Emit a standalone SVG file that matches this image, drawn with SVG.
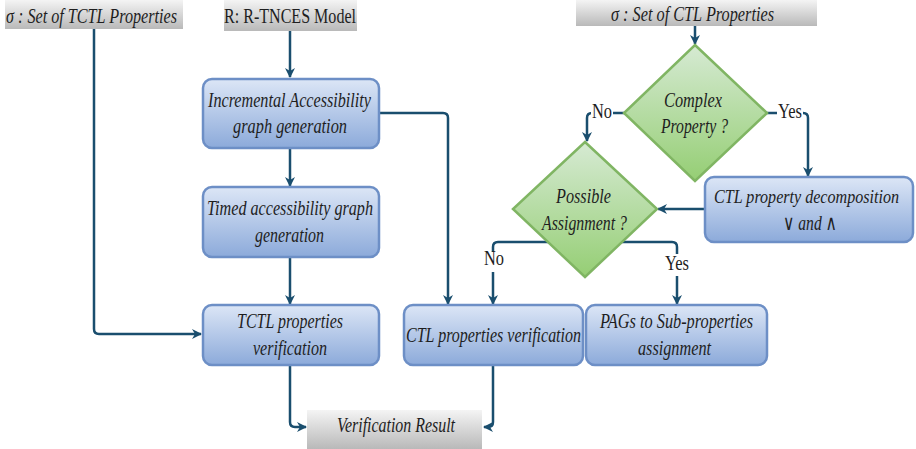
<svg xmlns="http://www.w3.org/2000/svg" width="916" height="449" viewBox="0 0 916 449" font-family="'Liberation Serif', 'DejaVu Serif', serif">
<defs>
<linearGradient id="gBlue" x1="0" y1="0" x2="0" y2="1"><stop offset="0" stop-color="#dce6f6"/><stop offset="1" stop-color="#8caada"/></linearGradient>
<linearGradient id="gGreen" x1="0" y1="0" x2="0" y2="1"><stop offset="0" stop-color="#d6ead3"/><stop offset="1" stop-color="#95ce74"/></linearGradient>
<linearGradient id="gGray" x1="0" y1="0" x2="0" y2="1"><stop offset="0" stop-color="#f4f4f4"/><stop offset="1" stop-color="#b9b9b9"/></linearGradient>
<marker id="arr" viewBox="0 0 10 10" refX="9" refY="5" markerWidth="10" markerHeight="10" markerUnits="userSpaceOnUse" orient="auto">
<path d="M0,0 L10,5 L0,10 L3,5 z" fill="#1a4e6e"/>
</marker>
<style>
.box{fill:url(#gBlue);stroke:#6d8fc6;stroke-width:2.5}
.dia{fill:url(#gGreen);stroke:#80b563;stroke-width:2.5}
.lbl{fill:url(#gGray)}
.c{fill:none;stroke:#1a4e6e;stroke-width:2.5;stroke-linejoin:round}
text{font-family:'Liberation Serif','DejaVu Serif',serif;font-size:21px;fill:#1e1e1e}
.i{font-style:italic}
.y{font-size:20px}
.s{font-size:19px}
</style>
</defs>
<rect width="916" height="449" fill="#ffffff"/>

<g id="connectors">
<path class="c" d="M94,29 V329 Q94,334 99,334 H201" marker-end="url(#arr)"/>
<path class="c" d="M290,31 V77" marker-end="url(#arr)"/>
<path class="c" d="M290,148 V186" marker-end="url(#arr)"/>
<path class="c" d="M290,257 V304" marker-end="url(#arr)"/>
<path class="c" d="M379,113 H443 Q448,113 448,118 V304" marker-end="url(#arr)"/>
<path class="c" d="M290,366 V422 Q290,427 295,427 H306" marker-end="url(#arr)"/>
<path class="c" d="M493,366 V422 Q493,427 488,427 H484" marker-end="url(#arr)"/>
<path class="c" d="M695,26 V44" marker-end="url(#arr)"/>
<path class="c" d="M624,113 H592 Q587,113 587,118 V141" marker-end="url(#arr)"/>
<path class="c" d="M767,113 H803 Q808,113 808,118 V176" marker-end="url(#arr)"/>
<path class="c" d="M705,209 H658" marker-end="url(#arr)"/>
<path class="c" d="M493,272 V304" marker-end="url(#arr)"/>
<path class="c" d="M493,252 V247 Q493,242 498,242 H672 Q677,242 677,247 V254"/>
<path class="c" d="M677,276 V304" marker-end="url(#arr)"/>
</g>

<g id="sigma-tctl"><rect class="lbl" x="5" y="0" width="178" height="29"/><text class="i" x="6" y="23" textLength="171" lengthAdjust="spacingAndGlyphs">σ : Set of TCTL Properties</text></g>
<g id="rtnces"><rect class="lbl" x="224" y="0" width="133" height="31"/><text x="224" y="23" textLength="132" lengthAdjust="spacingAndGlyphs">R: R-TNCES Model</text></g>
<g id="sigma-ctl"><rect class="lbl" x="576" y="0" width="241" height="26"/><text class="i" x="611" y="21" textLength="163" lengthAdjust="spacingAndGlyphs">σ : Set of CTL Properties</text></g>

<g id="incremental"><rect class="box" x="203" y="79" width="176" height="69" rx="9"/>
<text class="i" x="208" y="107" textLength="163" lengthAdjust="spacingAndGlyphs">Incremental Accessibility</text>
<text class="i" x="233" y="133" textLength="114" lengthAdjust="spacingAndGlyphs">graph generation</text></g>

<g id="timed"><rect class="box" x="203" y="187" width="176" height="70" rx="9"/>
<text class="i" x="207" y="215" textLength="166" lengthAdjust="spacingAndGlyphs">Timed accessibility graph</text>
<text class="i" x="255" y="242" textLength="69" lengthAdjust="spacingAndGlyphs">generation</text></g>

<g id="tctl-verif"><rect class="box" x="203" y="305" width="176" height="60" rx="9"/>
<text class="i" x="237" y="328" textLength="106" lengthAdjust="spacingAndGlyphs">TCTL properties</text>
<text class="i" x="253" y="355" textLength="74" lengthAdjust="spacingAndGlyphs">verification</text></g>

<g id="ctl-verif"><rect class="box" x="404" y="305" width="179" height="60" rx="9"/>
<text class="i" x="406" y="342" textLength="175" lengthAdjust="spacingAndGlyphs">CTL properties verification</text></g>

<g id="pags"><rect class="box" x="586" y="305" width="181" height="60" rx="9"/>
<text class="i" x="600" y="328" textLength="153" lengthAdjust="spacingAndGlyphs">PAGs to Sub-properties</text>
<text class="i" x="638" y="355" textLength="73" lengthAdjust="spacingAndGlyphs">assignment</text></g>

<g id="decomp"><rect class="box" x="705" y="177" width="208" height="65" rx="9"/>
<text class="i s" x="714" y="203" textLength="185" lengthAdjust="spacingAndGlyphs">CTL property decomposition</text>
<text class="i" x="783" y="230" textLength="54" lengthAdjust="spacingAndGlyphs">∨ and ∧</text></g>

<g id="complex"><path class="dia" d="M695,45 L767,113 L695,181 L624,113 Z"/>
<text class="i" x="664" y="107" textLength="58" lengthAdjust="spacingAndGlyphs">Complex</text>
<text class="i" x="661" y="133" textLength="67" lengthAdjust="spacingAndGlyphs">Property ?</text></g>

<g id="possible"><path class="dia" d="M585,142 L657,209 L585,277 L513,209 Z"/>
<text class="i" x="556" y="203" textLength="55" lengthAdjust="spacingAndGlyphs">Possible</text>
<text class="i" x="542" y="230" textLength="85" lengthAdjust="spacingAndGlyphs">Assignment ?</text></g>

<g id="result"><rect class="lbl" x="307" y="410" width="175" height="39"/>
<text class="i" x="337" y="432" textLength="118" lengthAdjust="spacingAndGlyphs">Verification Result</text></g>

<g id="edge-labels">
<rect x="591" y="103" width="22" height="20" fill="#fff"/>
<text class="y" x="592" y="118" textLength="20" lengthAdjust="spacingAndGlyphs">No</text>
<rect x="777" y="103" width="26" height="20" fill="#fff"/>
<text class="y" x="778" y="118" textLength="24" lengthAdjust="spacingAndGlyphs">Yes</text>
<text class="y" x="484" y="265" textLength="20" lengthAdjust="spacingAndGlyphs">No</text>
<text class="y" x="665" y="270" textLength="24" lengthAdjust="spacingAndGlyphs">Yes</text>
</g>
</svg>
